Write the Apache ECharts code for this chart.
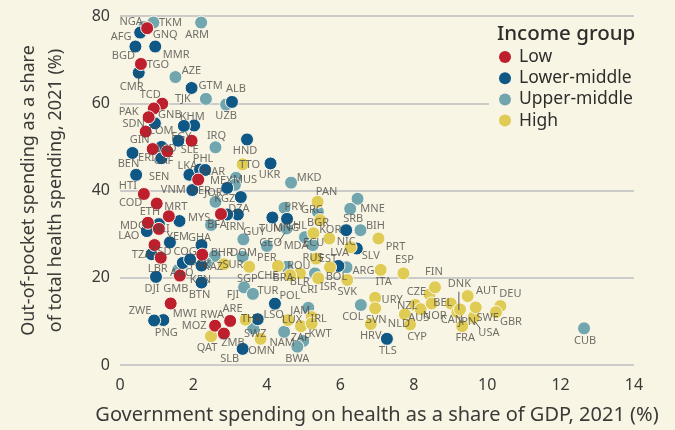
<!DOCTYPE html>
<html><head><meta charset="utf-8">
<style>html,body{margin:0;padding:0;background:#F8F5E4}#c{width:675px;height:430px}</style>
<script src="https://cdn.jsdelivr.net/npm/echarts@6/dist/echarts.min.js"></script>
</head><body><div id="c"></div>
<script>
const xTicks=[0,14], yRange=[0,80];
const low=[['NGA',.74,77.2],['TGO',.57,69],['TCD',1.15,59.9],['GNB',.92,58.8],['PAK',.78,56.8],['SDN',.70,53.5],['GIN',.89,49.5],['ERI',1.29,49],['SLE',1.95,51.4],['HTI',.65,39.2],['COD',1.0,37],['NER',2.13,42.5],['MRT',1.33,34.1],['MDG',.76,32.6],['MLI',1.06,31.2],['BFA',2.75,34.6],['SSD',.94,27.5],['LBR',1.11,24.6],['PRK',2.24,25.3],['GMB',1.63,20.5],['MWI',1.38,14.1],['MOZ',2.59,9],['RWA',3.0,10.1],['ZMB',2.83,7.2]];
const lowerMiddle=[['AFG',.55,76.2],['MMR',.96,73],['BGD',.42,73],['CMR',.51,67],['GTM',1.95,63.5],['ALB',3.05,60.3],['COM',.95,55.4],['KHM',2.02,54.9],['NPL',1.74,54.8],['EGY',1.59,51.4],['IND',1.13,50],['BEN',.34,48.6],['CAF',1.13,47.4],['HND',3.46,51.7],['UKR',4.1,46.2],['SEN',.44,43.6],['LKA',1.89,43.6],['PHL',2.18,44.8],['MAR',2.32,44.7],['VNM',1.97,40.1],['MEX',2.92,40.6],['KGZ',3.29,38.5],['DZA',3.21,34.5],['IRN',2.92,34.5],['BDI',1.62,33],['ETH',1.06,32.3],['LAO',.73,30.7],['YEM',1.36,28.1],['GHA',2.22,27.5],['TZA',.86,25.4],['AGO',1.71,23.4],['COG',1.91,24.2],['KEN',2.22,22.8],['BTN',2.22,18.9],['DJI',.98,20.2],['POL',4.22,14.05],['LSO',3.75,10.5],['PNG',1.18,10.3],['ZWE',.93,10.2],['SLB',3.34,3.7],['TLS',7.27,6],['TUN',4.15,33.8],['MNG',4.55,33.5],['NIC',6.16,30.9],['SLV',6.45,26.7],['BOL',5.95,22.7]];
const upperMiddle=[['TKM',.91,78.5],['ARM',2.21,78.5],['GNQ',.66,77.5],['AZE',1.51,66],['TJK',2.34,61],['UZB',2.89,59.7],['IRQ',2.6,49.9],['MUS',3.16,42.9],['ATG',3.13,41.3],['JOR',2.6,37.4],['MYS',2.48,32.1],['BHR',2.58,25],['DOM',3.34,24.8],['KAZ',2.34,23.4],['PSE',1.59,21.8],['GUY',3.36,28.8],['FJI',3.38,17.8],['TUR',3.62,16.3],['SWZ',3.63,8.4],['NAM',4.47,7.6],['ZAF',4.99,5.5],['BWA',4.83,4.2],['JAM',5.13,13.1],['COL',6.56,13.75],['CUB',12.64,8.4],['MKD',4.66,41.8],['MNE',6.47,38.1],['SRB',6.27,35.8],['PRY',4.48,36],['GRC',5.39,35.1],['GEO',4.54,31.3],['PER',4.0,27.3],['MDA',5.04,29.3],['ECU',5.25,27.5],['BIH',6.55,30.9],['ARG',6.17,22.4],['CRI',5.31,21],['BLR',4.54,22.5]];
const high=[['TTO',3.34,46],['SUR',2.83,23.1],['SGP',3.52,22.5],['CHE',4.3,22.7],['ROU',4.9,21],['BRA',4.63,20.6],['ISR',5.4,19.9],['SVK',6.19,19.5],['EST',5.72,22.4],['RUS',5.34,24.4],['PAN',5.38,37.4],['BGR',5.45,33.2],['CHL',5.27,30.2],['KOR',5.7,29],['LVA',6.28,27],['PRT',7.04,29],['ITA',7.1,21.8],['ESP',7.72,21],['OMN',3.83,6],['QAT',2.48,6.6],['ARE',3.42,10.5],['THA',3.42,10.4],['LUX',4.58,10.3],['KWT',4.93,8.9],['IRL',5.22,11],['BRN',5.22,9.5],['URY',6.95,15.4],['SVN',6.95,13],['HRV',6.83,9.4],['NLD',7.76,11.6],['CYP',7.9,9.3],['NZL',8.04,13.75],['AUS',8.19,12.8],['CZE',8.43,16.2],['FIN',8.58,17.8],['NOR',8.49,14.1],['BEL',9.01,14.1],['DNK',9.19,12.1],['CAN',9.26,12.75],['AUT',9.47,15.8],['JPN',9.62,10.7],['USA',9.64,11],['SWE',9.69,13.2],['FRA',9.32,8.9],['DEU',10.36,13.5],['GBR',10.24,12.1]];
const leaderCMR=[[.51,67],[.51,64.4]];
const leaderDNK=[[9.23,16.8],[9.23,12.6]];
const leaderUSA=[[9.67,9.9],[9.81,8.4]];
const leaderGEO=[[4.49,30.3],[4.31,28]];

// label placement (pixel offset from the dot); codes absent here have no visible label
const labelOffsets={NGA:[-16,-6],TGO:[17,1],TCD:[-12,-9],GNB:[16,6],PAK:[-20,-5],SDN:[-12,-8],GIN:[-13,-9],ERI:[-21,7],SLE:[-2,9],HTI:[-16,-8],COD:[-26,-1],NER:[2,11],MRT:[7,-9],MDG:[-15,3],MLI:[1,0],BFA:[-4,11],SSD:[7,7],LBR:[-3,11],PRK:[-2,10],GMB:[-4,13],MWI:[14,10],MOZ:[-21,0],RWA:[-18,-6],ZMB:[9,9],
AFG:[-19,4],MMR:[21,8],BGD:[-12,9],CMR:[-7,14],GTM:[19,-2],ALB:[4,-13],COM:[6,8],KHM:[-2,-9],EGY:[3,-4],IND:[5,2],BEN:[-4,11],CAF:[2,3],HND:[-2,11],UKR:[-1,11],SEN:[23,2],LKA:[-2,-9],PHL:[3,-11],MAR:[8,2],VNM:[-19,0],MEX:[-6,-7],KGZ:[-16,2],DZA:[1,-6],IRN:[8,12],ETH:[-9,-12],LAO:[-18,5],YEM:[8,-6],GHA:[-2,-7],TZA:[-10,1],AGO:[-1,10],COG:[-5,-8],KEN:[-1,14],BTN:[-2,12],DJI:[-4,12],POL:[15,-8],LSO:[16,-4],ZWE:[-14,-10],PNG:[3,13],SLB:[-13,10],TLS:[1,12],TUN:[-2,11],MNG:[-1,9],NIC:[0,12],SLV:[14,7],BOL:[-2,11],
TKM:[17,0],ARM:[-4,12],GNQ:[21,8],AZE:[16,-6],TJK:[-23,0],UZB:[0,11],IRQ:[1,-11],MUS:[9,2],JOR:[-2,-9],MYS:[-12,-7],BHR:[7,-3],DOM:[1,-4],KAZ:[7,4],GUY:[11,-8],FJI:[-11,8],TUR:[15,-3],SWZ:[2,6],NAM:[-2,11],ZAF:[-3,-3],BWA:[0,12],JAM:[-8,3],COL:[-8,12],CUB:[1,13],MKD:[18,-5],MNE:[15,10],SRB:[3,10],PRY:[10,-1],GRC:[-6,-2],GEO:[-16,14],PER:[0,12],MDA:[-9,9],ECU:[1,-2],BIH:[15,-4],ARG:[17,4],CRI:[-6,16],BLR:[13,15],
TTO:[7,1],SUR:[9,1],SGP:[-2,12],CHE:[-10,10],ROU:[-1,-8],BRA:[-7,3],ISR:[10,9],SVK:[0,12],EST:[-2,-8],RUS:[-3,-1],PAN:[9,-10],BGR:[-2,3],CHL:[-17,-7],KOR:[1,-9],LVA:[-11,6],PRT:[17,8],ITA:[3,12],ESP:[1,-14],OMN:[1,12],QAT:[-4,12],ARE:[-13,-10],THA:[6,-1],LUX:[4,0],KWT:[19,8],IRL:[7,2],URY:[17,2],SVN:[1,12],HRV:[0,12],NLD:[-6,9],CYP:[7,12],NZL:[-8,1],AUS:[-2,9],CZE:[-13,-2],FIN:[-1,-15],NOR:[3,12],BEL:[-8,-1],DNK:[2,-28],CAN:[-8,10],AUT:[19,-5],JPN:[-6,4],USA:[15,16],SWE:[12,10],FRA:[3,12],DEU:[10,-12],GBR:[15,10]};

const BG='#F8F5E4', TXT='#3c3a38', FONT='Noto Sans';
const dots=(name,arr,color)=>({type:'scatter',name,data:arr.map(d=>[d[1],d[2]]),symbolSize:13,
  itemStyle:{color,borderColor:'#fbf9ee',borderWidth:1,opacity:1},silent:true,animation:false});
const leader=(pts)=>({type:'line',name:'leader',data:pts,symbol:'none',silent:true,z:4,animation:false,lineStyle:{color:'#444',width:.9}});
const all=[...upperMiddle,...lowerMiddle,...high,...low].filter(d=>labelOffsets[d[0]]);
const option={
 animation:false,backgroundColor:BG,textStyle:{fontFamily:FONT},
 grid:{left:120,right:41,top:16,bottom:65,containLabel:false,outerBoundsMode:'none'},
 xAxis:{type:'value',min:xTicks[0],max:xTicks[1],interval:2,
  axisLine:{show:false},axisTick:{show:false},splitLine:{show:false},
  axisLabel:{color:TXT,fontSize:16,margin:12,fontFamily:FONT},
  name:'Government spending on health as a share of GDP, 2021 (%)',nameLocation:'middle',nameGap:40,
  nameTextStyle:{color:TXT,fontSize:20,fontFamily:FONT}},
 yAxis:{type:'value',min:yRange[0],max:yRange[1],interval:20,
  axisLine:{show:false},axisTick:{show:false},
  splitLine:{lineStyle:{color:'#cbcbc9',width:2}},
  axisLabel:{color:TXT,fontSize:16,margin:10,fontFamily:FONT},
  name:'Out-of-pocket spending as a share\nof total health spending, 2021 (%)',nameLocation:'middle',nameGap:51,nameRotate:90,
  nameTextStyle:{color:TXT,fontSize:18,lineHeight:27,fontFamily:FONT}},
 title:{text:'Income group',left:497,top:24,padding:0,z:20,textStyle:{color:'#2f2d2c',fontSize:20.5,fontWeight:500,fontFamily:FONT}},
 legend:{data:['Low','Lower-middle','Upper-middle','High'],left:489,top:20,orient:'vertical',
  backgroundColor:BG,padding:[28,14,4,10],itemWidth:12,itemHeight:12,itemGap:3.2,icon:'circle',z:10,
  itemStyle:{borderWidth:0},selectedMode:false,
  textStyle:{color:'#2f2d2c',fontSize:17.5,fontFamily:FONT,padding:[0,0,0,3],lineHeight:14.3}},
 series:[
  dots('Upper-middle',upperMiddle,'#72A6AF'),
  dots('Lower-middle',lowerMiddle,'#0F5885'),
  dots('High',high,'#E0CB55'),
  dots('Low',low,'#BD1F2D'),
  leader(leaderCMR),leader(leaderDNK),leader(leaderUSA),leader(leaderGEO),
  {type:'scatter',name:'labels',symbolSize:1,silent:true,z:5,animation:false,itemStyle:{color:'rgba(0,0,0,0)'},
   data:all.map(d=>({name:d[0],value:[d[1],d[2]]})),
   label:{show:true,position:'inside',formatter:p=>p.name,color:'#4f4c48',fontSize:11,fontFamily:FONT},
   labelLayout:p=>{const o=labelOffsets[p.text]||[0,0];return {dx:o[0],dy:o[1]};}}
 ]
};
echarts.init(document.getElementById('c'),null,{renderer:'canvas'}).setOption(option);
</script></body></html>
